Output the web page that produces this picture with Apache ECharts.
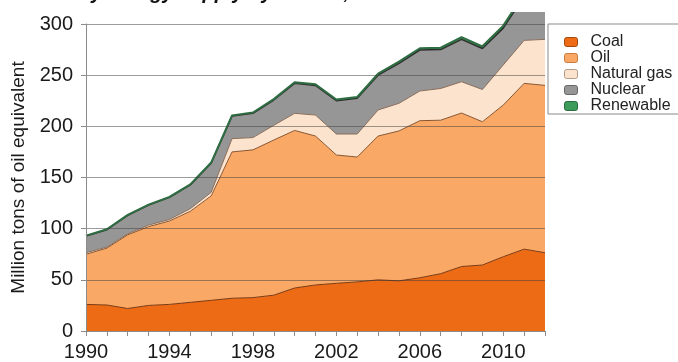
<!DOCTYPE html>
<html>
<head>
<meta charset="utf-8">
<script src="https://cdn.jsdelivr.net/npm/echarts@6/dist/echarts.min.js"></script>
<style>
html,body{margin:0;padding:0;background:#fff;}
#chart{width:678px;height:362px;}
</style>
</head>
<body>
<div id="chart"></div>
<script>
// Data (million tons of oil equivalent)
const years = ['1990','1991','1992','1993','1994','1995','1996','1997','1998','1999','2000','2001','2002','2003','2004','2005','2006','2007','2008','2009','2010','2011','2012'];
const coal      = [26, 25.4, 22, 25, 26, 28, 30, 32, 32.6, 35, 42, 45, 46.6, 48, 50, 49, 52, 56, 63, 64.5, 72.6, 80, 76.5];
const oil       = [49, 55.6, 72, 77, 81.5, 89, 102, 143, 144.4, 151.6, 154, 145.5, 125.4, 122, 140.5, 146.5, 153.5, 150, 150, 140, 148.2, 162, 163.5];
const naturalGas= [1.5, 1, 1, 1.5, 1.5, 2.5, 3.5, 13, 12, 14.4, 16.7, 20.5, 20.5, 22.5, 25.5, 27, 29, 31, 30.6, 31.5, 39.2, 42, 45];
const nuclear   = [16.3, 17, 18, 19.5, 21.6, 23.2, 28.5, 22, 23.7, 24.7, 29.3, 29, 32.5, 34.9, 34, 39.1, 40.1, 38, 41.4, 40, 36, 43, 42];
const renewable = [0.4, 0.4, 0.5, 0.5, 0.5, 0.6, 0.6, 0.7, 0.8, 0.9, 1.1, 1.1, 1.2, 1.3, 1.4, 1.6, 1.7, 1.8, 2.1, 2.2, 2.4, 2.6, 2.8];
const yTicks = [0, 50, 100, 150, 200, 250, 300];
const titleText = 'Primary energy supply by source, 1990\u20132012';
const yName = 'Million tons of oil equivalent';

const FONT = '"Liberation Sans", Arial, sans-serif';

function areaSeries(name, data, fill, line, lw, border) {
  return {
    name: name, type: 'line', stack: 'total', data: data,
    symbol: 'none', showSymbol: false, clip: false, smooth: false,
    lineStyle: { color: line, width: lw },
    areaStyle: { color: fill, opacity: 1 },
    itemStyle: { color: fill, borderColor: border, borderWidth: 1 },
    emphasis: { disabled: true },
    z: 2
  };
}

const chart = echarts.init(document.getElementById('chart'), null, { renderer: 'canvas' });
chart.setOption({
  animation: false,
  backgroundColor: '#ffffff',
  grid: { left: 86, right: 133, top: 24, bottom: 31, containLabel: false },
  legend: {
    orient: 'vertical', left: 548, top: 24,
    data: ['Coal', 'Oil', 'Natural gas', 'Nuclear', 'Renewable'],
    icon: 'roundRect', itemWidth: 13, itemHeight: 9, itemGap: 0,
    padding: [10, 10, 0, 16],
    borderColor: '#8a8a8a', borderWidth: 1, backgroundColor: '#fff',
    itemStyle: { borderWidth: 1 },
    textStyle: { fontFamily: FONT, fontSize: 16, lineHeight: 16, color: '#222', padding: [0, 0, 0, 8] },
    selectedMode: false
  },
  xAxis: {
    type: 'category', data: years, boundaryGap: false,
    axisLine: { lineStyle: { color: '#8c8c8c', width: 1 } },
    axisTick: { show: true, interval: 0, length: 5, inside: false, lineStyle: { color: '#8c8c8c' } },
    axisLabel: { interval: 3, margin: 11, fontFamily: FONT, fontSize: 20, color: '#1a1a1a' },
    splitLine: { show: false },
    z: 10
  },
  yAxis: {
    type: 'value', min: yTicks[0], max: yTicks[yTicks.length - 1], interval: 50,
    name: yName, nameLocation: 'middle', nameGap: 50, nameRotate: 90,
    nameTextStyle: { fontFamily: FONT, fontSize: 19, color: '#1a1a1a' },
    axisLine: { show: true, lineStyle: { color: '#8c8c8c', width: 1 } },
    axisTick: { show: true, length: 5, lineStyle: { color: '#8c8c8c' } },
    axisLabel: { margin: 13, fontFamily: FONT, fontSize: 20, color: '#1a1a1a' },
    splitLine: { show: true, lineStyle: { color: 'rgba(60,60,60,0.5)', width: 1 } },
    z: 10
  },
  graphic: [
    { type: 'rect', z: 100, shape: { x: 0, y: 0, width: 548, height: 12 }, style: { fill: '#ffffff' } },
    { type: 'text', z: 101, x: 28, y: -7,
      style: { text: titleText, font: 'italic bold 20px ' + FONT, fill: '#111', textAlign: 'left', verticalAlign: 'middle' } }
  ],
  series: [
    areaSeries('Coal', coal, '#ee6b16', '#7a3a12', 1, '#a5470c'),
    areaSeries('Oil', oil, '#f9a866', '#8a5630', 1, '#c77a3a'),
    areaSeries('Natural gas', naturalGas, '#fce3cd', '#8a6e5c', 1, '#b59a86'),
    areaSeries('Nuclear', nuclear, '#969696', '#2f2f2f', 1.5, '#666666'),
    areaSeries('Renewable', renewable, '#3d9b5c', '#2e6e42', 2, '#2c6a3f')
  ]
});
</script>
</body>
</html>
